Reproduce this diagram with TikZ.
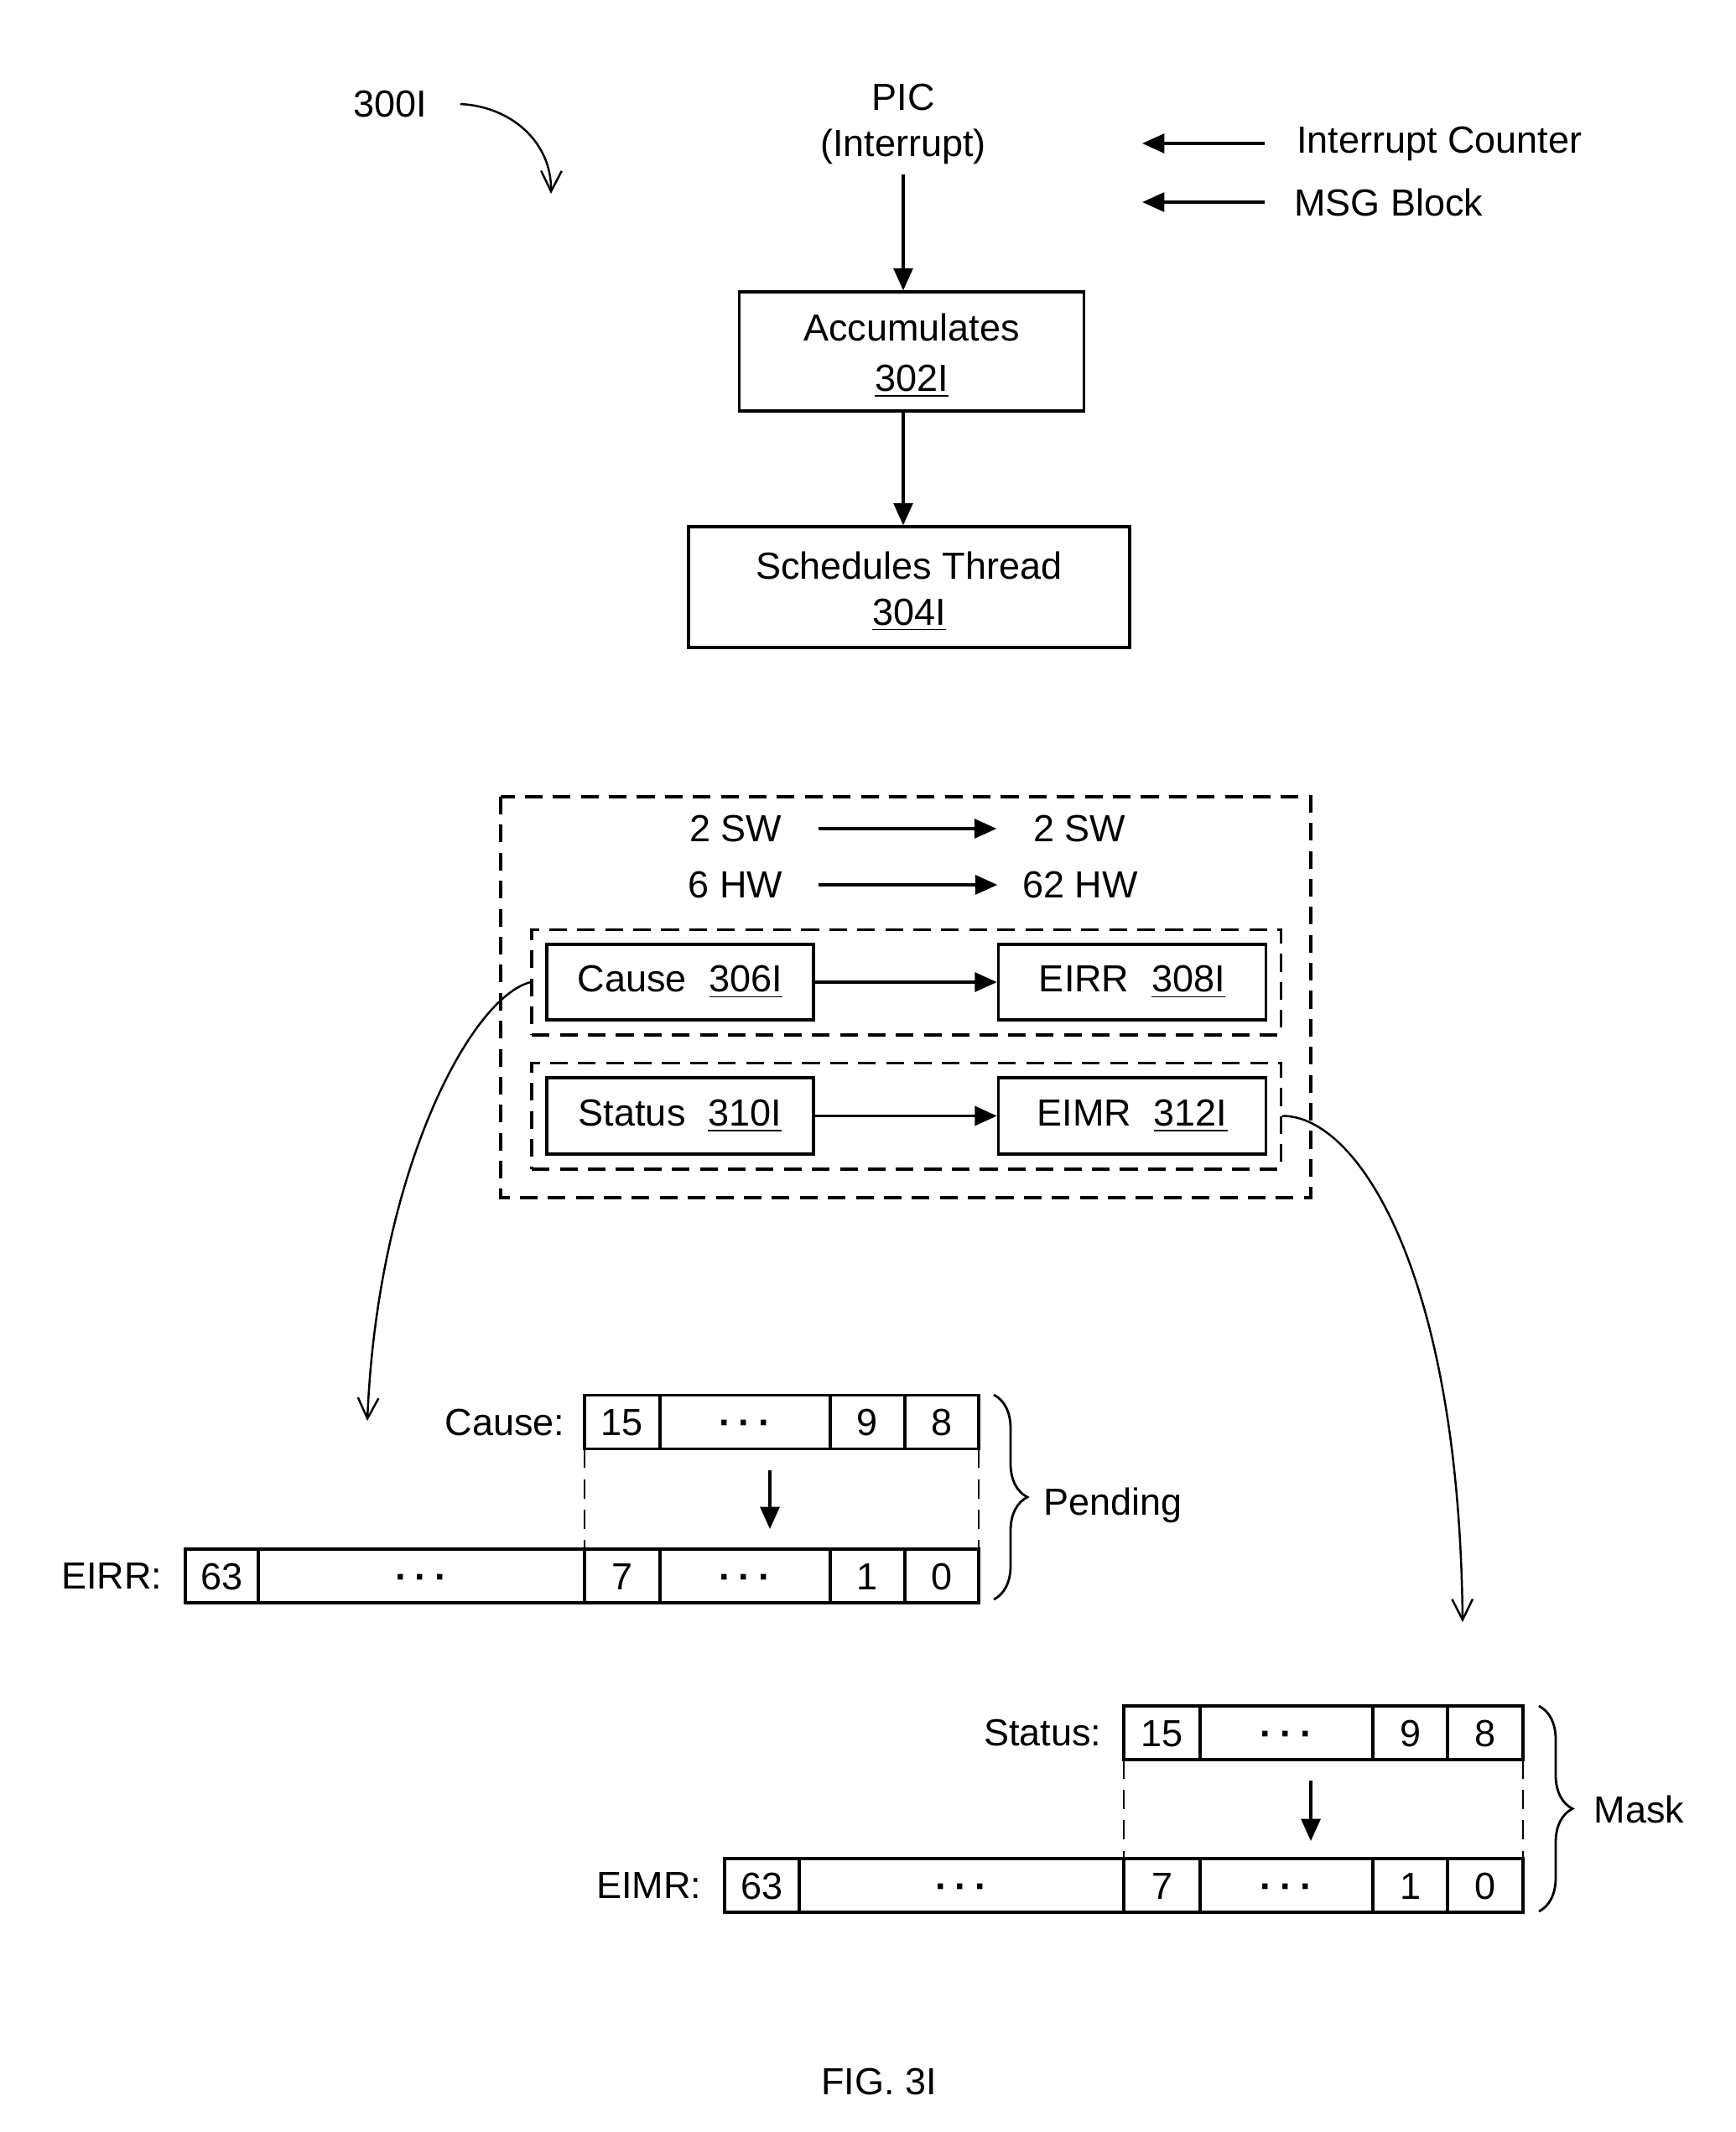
\documentclass[tikz,border=0pt]{standalone}
\usepackage{fontspec}
\setmainfont{Liberation Sans}
\newcommand{\celldots}{\textbf{·\hspace{0.2em}·\hspace{0.2em}·}}
\usetikzlibrary{arrows.meta, positioning, fit, decorations.pathreplacing}

\begin{document}
\begin{tikzpicture}[
    font=\fontsize{12.8}{15.4}\selectfont,
    box/.style={draw, line width=1pt, inner sep=0pt, align=center},
    arr/.style={-{Triangle[length=7.5pt, width=6.5pt]}, line width=1pt},
    barb/.style={-{Straight Barb[length=7pt, width=7pt]}, line width=0.7pt},
    dashbox/.style={draw, dash pattern=on 6pt off 3.5pt, line width=1pt},
    guide/.style={dash pattern=on 6.5pt off 3.8pt, line width=0.7pt},
    word/.style={inner sep=0pt, minimum width=1.96cm},
    cell/.style={draw, line width=0.9pt, inner sep=0pt, outer sep=0pt,
      minimum height=0.64cm, text height=0.32cm, text depth=0pt},
    reglbl/.style={inner sep=0pt},
    brc/.style={decorate, decoration={brace, amplitude=0.4cm}, line width=0.8pt}
  ]
  \useasboundingbox (0,0) rectangle (20.70,-25.42);

  % Figure label
  \node (fig) at (4.65,-1.24) {300I};
  \coordinate (figa) at (5.49,-1.24);
  \coordinate (figb) at (6.57,-2.31);
  \draw[barb] (figa) .. controls (6.10,-1.27) and (6.58,-1.70) .. (figb);

  % Flow boxes
  \node[align=center] (pic) at (10.77,-1.48) {PIC\\(Interrupt)};
  \node[box, minimum width=4.11cm, minimum height=1.42cm] (acc) at (10.87,-4.19) {\rule{0pt}{12.2pt}Accumulates\\[1.6pt]\underline{302I}};
  \node[box, minimum width=5.26cm, minimum height=1.44cm] (sched) at (10.84,-7.00) {\rule{0pt}{12.2pt}Schedules Thread\\[0.3pt]\underline{304I}};
  \draw[arr] (pic.south) -- (pic.south |- acc.north);
  \draw[arr] (acc.south -| pic.south) -- (pic.south |- sched.north);

  % Sources
  \node[anchor=west] (cnt) at (15.34,-1.71) {Interrupt Counter};
  \node[anchor=west] (msg) at (15.31,-2.41) {MSG Block};
  \coordinate (cntend) at (13.62,-1.71);
  \coordinate (msgend) at (13.62,-2.41);
  \draw[arr, shorten <=0.26cm] (cnt.west) -- (cntend);
  \draw[arr, shorten <=0.23cm] (msg.west) -- (msgend);

  % Register mapping
  \draw[dashbox] (5.97,-9.50) rectangle (15.63,-14.28);
  \node[word] (sw1) at (8.77,-9.88) {2 SW};
  \node[word] (sw2) at (12.87,-9.88) {2 SW};
  \node[word] (hw1) at (8.77,-10.55) {6 HW};
  \node[word] (hw2) at (12.88,-10.55) {62 HW};
  \draw[arr] (sw1) -- (sw2);
  \draw[arr] (hw1) -- (hw2);

  \node[box, minimum width=3.18cm, minimum height=0.90cm] (cause) at (8.11,-11.71) {Cause\hspace{0.6em}\underline{306I}};
  \node[box, minimum width=3.19cm, minimum height=0.90cm] (eirr) at (13.50,-11.71) {EIRR\hspace{0.6em}\underline{308I}};
  \node[box, minimum width=3.18cm, minimum height=0.91cm] (status) at (8.11,-13.305) {Status\hspace{0.6em}\underline{310I}};
  \node[box, minimum width=3.19cm, minimum height=0.91cm] (eimr) at (13.50,-13.305) {EIMR\hspace{0.6em}\underline{312I}};
  \draw[arr] (cause) -- (eirr);
  \draw[arr] (status) -- (eimr);
  \node[dashbox, fit=(cause)(eirr), inner sep=0.16cm] (grp1) {};
  \node[dashbox, fit=(status)(eimr), inner sep=0.16cm] (grp2) {};

  % Connectors to the bit layouts
  \coordinate (pendtip) at (4.38,-16.94);
  \coordinate (masktip) at (17.44,-19.34);
  \draw[barb] (grp1.west) .. controls (5.60,-11.90) and (4.50,-14.00) .. (pendtip);
  \draw[barb] (grp2.east) .. controls (16.20,-13.30) and (17.40,-15.20) .. (masktip);

  % Cause -> EIRR
  \node[cell, minimum width=0.90cm] (c15) at (7.42,-16.955) {15};
  \node[cell, minimum width=2.03cm] (cdots) at (8.885,-16.955) {\celldots};
  \node[cell, minimum width=0.88cm] (c9) at (10.345,-16.955) {9};
  \node[cell, minimum width=0.88cm] (c8) at (11.23,-16.955) {8};
  \node[cell, minimum width=0.87cm] (e63) at (2.645,-18.79) {63};
  \node[cell, minimum width=3.89cm] (edotsa) at (5.025,-18.79) {\celldots};
  \node[cell, minimum width=0.90cm] (e7) at (7.42,-18.79) {7};
  \node[cell, minimum width=2.03cm] (edotsb) at (8.885,-18.79) {\celldots};
  \node[cell, minimum width=0.88cm] (e1) at (10.345,-18.79) {1};
  \node[cell, minimum width=0.88cm] (e0) at (11.23,-18.79) {0};
  \node[reglbl, left=0.23cm of c15] (causelbl) {Cause:};
  \node[reglbl, left=0.27cm of e63] (eirrlbl) {EIRR:};
  \draw[guide] (c15.south west) -- (e7.north west);
  \draw[guide] (c8.south east) -- (e0.north east);
  \coordinate (pa) at (9.18,-17.53);
  \coordinate (pb) at (9.18,-18.23);
  \draw[arr] (pa) -- (pb);
  \coordinate (bra) at (11.85,-16.63);
  \coordinate (brb) at (11.85,-19.07);
  \draw[brc] (bra) -- (brb);
  \node[anchor=base west, inner sep=0pt] (pend) at (12.44,-18.06) {Pending};

  % Status -> EIMR
  \node[cell, minimum width=0.91cm] (s15) at (13.855,-20.66) {15};
  \node[cell, minimum width=2.06cm] (sdots) at (15.34,-20.66) {\celldots};
  \node[cell, minimum width=0.89cm] (s9) at (16.815,-20.66) {9};
  \node[cell, minimum width=0.90cm] (s8) at (17.71,-20.66) {8};
  \node[cell, minimum width=0.89cm] (m63) at (9.085,-22.48) {63};
  \node[cell, minimum width=3.87cm] (mdotsa) at (11.465,-22.48) {\celldots};
  \node[cell, minimum width=0.91cm] (m7) at (13.855,-22.48) {7};
  \node[cell, minimum width=2.06cm] (mdotsb) at (15.34,-22.48) {\celldots};
  \node[cell, minimum width=0.89cm] (m1) at (16.815,-22.48) {1};
  \node[cell, minimum width=0.90cm] (m0) at (17.71,-22.48) {0};
  \node[reglbl, left=0.26cm of s15] (statuslbl) {Status:};
  \node[reglbl, left=0.27cm of m63] (eimrlbl) {EIMR:};
  \draw[guide] (s15.south west) -- (m7.north west);
  \draw[guide] (s8.south east) -- (m0.north east);
  \coordinate (qa) at (15.63,-21.23);
  \coordinate (qb) at (15.63,-21.95);
  \draw[arr] (qa) -- (qb);
  \coordinate (brc) at (18.35,-20.34);
  \coordinate (brd) at (18.35,-22.79);
  \draw[brc] (brc) -- (brd);
  \node[anchor=base west, inner sep=0pt] (mask) at (19.00,-21.73) {Mask};

  \node (caption) at (10.48,-24.82) {FIG. 3I};
\end{tikzpicture}
\end{document}
